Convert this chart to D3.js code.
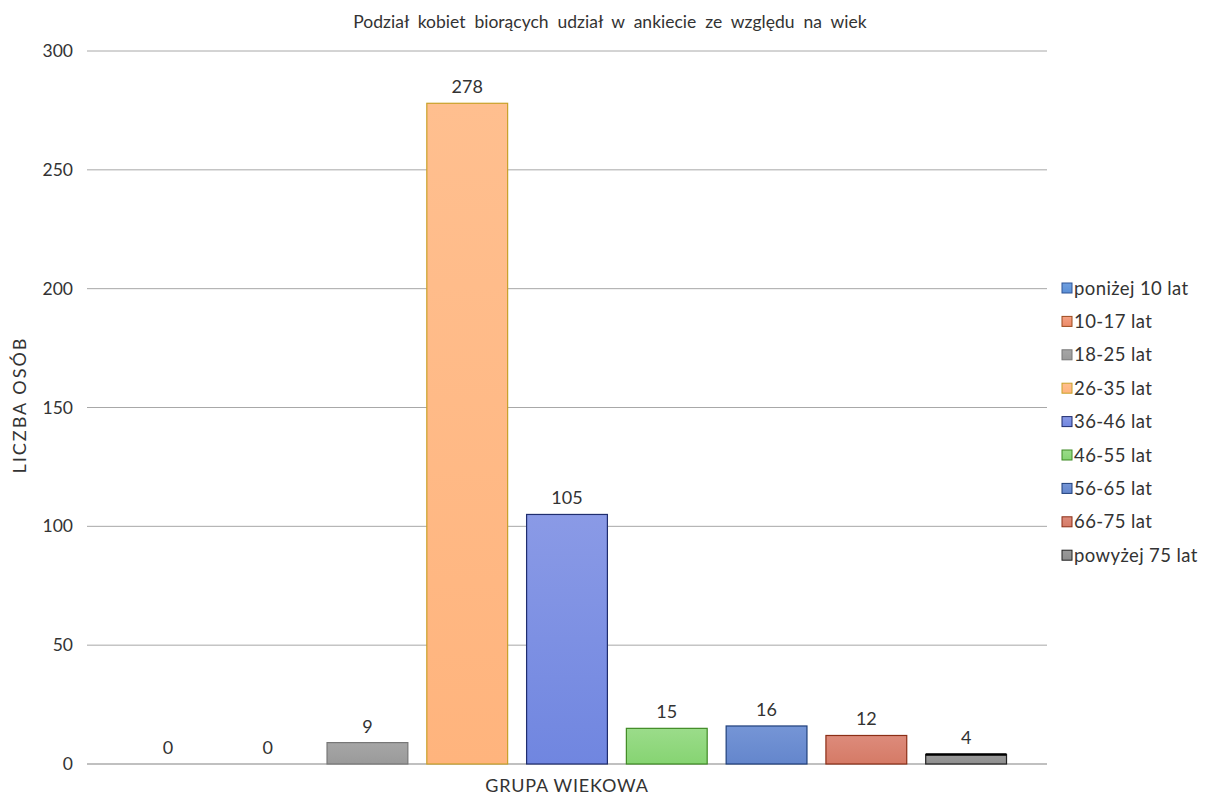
<!DOCTYPE html>
<html><head><meta charset="utf-8">
<script src="https://cdn.jsdelivr.net/npm/d3@7"></script>
<style>body{margin:0;background:#fff}svg{display:block}text{font-family:Lato,"Open Sans",sans-serif;fill:#333}</style>
</head><body><svg id="c" width="1220" height="796"></svg>
<script>
const title = "Podział kobiet biorących udział w ankiecie ze względu na wiek";
const categories = ["poniżej 10 lat","10-17 lat","18-25 lat","26-35 lat","36-46 lat","46-55 lat","56-65 lat","66-75 lat","powyżej 75 lat"];
const values = [0,0,9,278,105,15,16,12,4];
const fillsTop = ["#6f9fe0","#f4a183","#a6a6a6","#ffbf8f","#8a9ae6","#9bdc8a","#7595d6","#dd8b7b","#9a9a9a"];
const fillsBot = ["#5b8fd6","#ec8a68","#9a9a9a","#ffb47d","#7086e0","#86d472","#6486cc","#d57a66","#8e8e8e"];
const strokes = ["#2e5597","#9c4a1d","#777777","#c9a128","#1f2d6e","#3f8a24","#1f3f7a","#8b2e16","#222222"];
const yTicks = [0,50,100,150,200,250,300];

const svg = d3.select("#c");
const x0 = 87, x1 = 1047, yTop = 51, yBot = 764;
const y = d3.scaleLinear().domain([0,300]).range([yBot,yTop]);
const x = d3.scaleBand().domain(categories).range([118,1016]).paddingInner(0.19).paddingOuter(0.095);

const defs = svg.append("defs");
categories.forEach((c,i)=>{
  const g = defs.append("linearGradient").attr("id","g"+i).attr("x1",0).attr("y1",0).attr("x2",0).attr("y2",1);
  g.append("stop").attr("offset","0%").attr("stop-color",fillsTop[i]);
  g.append("stop").attr("offset","100%").attr("stop-color",fillsBot[i]);
});

svg.append("text").attr("x",610).attr("y",28).attr("text-anchor","middle")
  .style("font-size","17.5px").style("word-spacing","4.5px").text(title);

const grid = svg.append("g");
yTicks.forEach(t=>{
  grid.append("line").attr("x1",x0).attr("x2",x1).attr("y1",y(t)).attr("y2",y(t))
    .attr("stroke", t===0 ? "#c0c0c0" : "#a8a8a8").attr("stroke-width", t===0?2:1);
});
const yAxis = d3.axisLeft(y).tickValues(yTicks).tickSize(0).tickPadding(14);
const ga = svg.append("g").attr("transform",`translate(${x0},0)`).call(yAxis);
ga.select(".domain").remove();
ga.selectAll("text").style("font-size","17.5px").style("font-family","Lato,sans-serif").attr("fill","#333");

svg.append("text").attr("transform","translate(26,405) rotate(-90)").attr("text-anchor","middle")
  .style("font-size","18px").style("letter-spacing","2px").text("LICZBA OSÓB");
svg.append("text").attr("x",567).attr("y",792).attr("text-anchor","middle")
  .style("font-size","18px").style("letter-spacing","0.8px").text("GRUPA WIEKOWA");

const bars = svg.append("g");
categories.forEach((c,i)=>{
  const v = values[i];
  if (v>0) {
    bars.append("rect").attr("x",x(c)).attr("y",y(v)).attr("width",x.bandwidth()).attr("height",y(0)-y(v))
      .attr("fill",`url(#g${i})`).attr("stroke",strokes[i]).attr("stroke-width",1.2);
    if (i===8) bars.append("line").attr("x1",x(c)).attr("x2",x(c)+x.bandwidth()).attr("y1",y(v)).attr("y2",y(v)).attr("stroke","#000").attr("stroke-width",2.5);
  }
  svg.append("text").attr("x",x(c)+x.bandwidth()/2).attr("y",y(v)-10).attr("text-anchor","middle")
    .style("font-size","18px").text(v);
});

const leg = svg.append("g");
categories.forEach((c,i)=>{
  const ly = 288 + i*33.4;
  leg.append("rect").attr("x",1062).attr("y",ly-5).attr("width",10).attr("height",10)
    .attr("fill",`url(#g${i})`).attr("stroke",strokes[i]).attr("stroke-width",1);
  leg.append("text").attr("x",1074).attr("y",ly+6.5).style("font-size","18.5px").style("letter-spacing","0.4px").text(c);
});
</script></body></html>
